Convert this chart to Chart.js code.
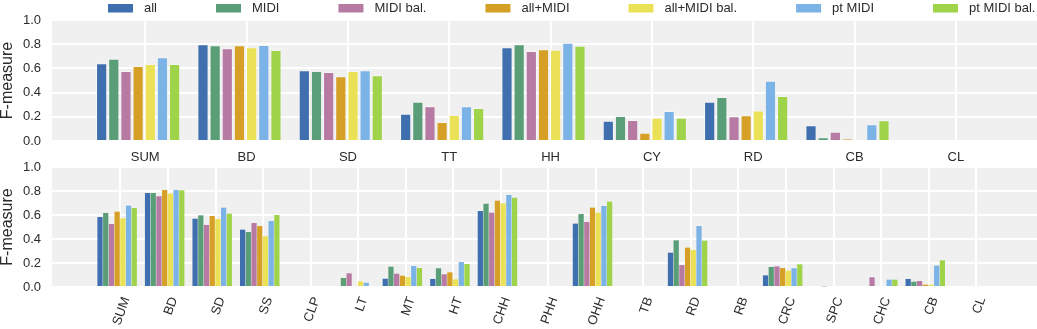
<!DOCTYPE html>
<html>
<head>
<meta charset="utf-8">
<script src="https://cdn.jsdelivr.net/npm/chart.js@4.4.0/dist/chart.umd.js"></script>
<style>
    html, body { margin: 0; padding: 0; background: #fff; }
    #wrap { position: relative; width: 1037px; height: 329px; }
    #wrap canvas { position: absolute; left: 0; top: 0; }
</style>
</head>
<body>
<div id="wrap">
    <canvas id="topChart" width="1037" height="329"></canvas>
    <canvas id="bottomChart" width="1037" height="329"></canvas>
</div>
<script>
// Series / categories
const seriesNames = ['all', 'MIDI', 'MIDI bal.', 'all+MIDI', 'all+MIDI bal.', 'pt MIDI', 'pt MIDI bal.'];
const yTicks = [0, 0.2, 0.4, 0.6, 0.8, 1.0];

const topCategories = ['SUM', 'BD', 'SD', 'TT', 'HH', 'CY', 'RD', 'CB', 'CL'];
const topAll         = [0.642, 0.799, 0.584, 0.226, 0.774, 0.168, 0.325, 0.130, 0];
const topMidi        = [0.680, 0.791, 0.579, 0.325, 0.799, 0.207, 0.364, 0.030, 0];
const topMidiBal     = [0.579, 0.766, 0.570, 0.287, 0.744, 0.174, 0.204, 0.077, 0];
const topAllMidi     = [0.620, 0.791, 0.535, 0.157, 0.758, 0.069, 0.212, 0.017, 0];
const topAllMidiBal  = [0.636, 0.774, 0.579, 0.215, 0.755, 0.193, 0.253, 0.008, 0];
const topPtMidi      = [0.692, 0.793, 0.584, 0.287, 0.813, 0.248, 0.498, 0.138, 0];
const topPtMidiBal   = [0.636, 0.752, 0.543, 0.273, 0.788, 0.193, 0.372, 0.171, 0];

const bottomCategories = ['SUM', 'BD', 'SD', 'SS', 'CLP', 'LT', 'MT', 'HT', 'CHH', 'PHH',
                          'OHH', 'TB', 'RD', 'RB', 'CRC', 'SPC', 'CHC', 'CB', 'CL'];
const botAll        = [0.583, 0.783, 0.569, 0.478, 0, 0,     0.069, 0.067, 0.633, 0, 0.528, 0, 0.286, 0, 0.097, 0,     0,     0.067, 0];
const botMidi       = [0.617, 0.783, 0.597, 0.458, 0, 0.075, 0.169, 0.156, 0.694, 0, 0.608, 0, 0.389, 0, 0.167, 0,     0,     0.044, 0];
const botMidiBal    = [0.525, 0.756, 0.517, 0.533, 0, 0.114, 0.111, 0.106, 0.619, 0, 0.542, 0, 0.183, 0, 0.172, 0.005, 0.081, 0.050, 0];
const botAllMidi    = [0.628, 0.808, 0.592, 0.508, 0, 0,     0.094, 0.122, 0.719, 0, 0.661, 0, 0.328, 0, 0.158, 0,     0,     0.019, 0];
const botAllMidiBal = [0.572, 0.778, 0.567, 0.422, 0, 0.047, 0.083, 0.064, 0.697, 0, 0.619, 0, 0.308, 0, 0.136, 0,     0,     0.019, 0];
const botPtMidi     = [0.678, 0.808, 0.661, 0.550, 0, 0.036, 0.175, 0.208, 0.767, 0, 0.675, 0, 0.508, 0, 0.156, 0,     0.061, 0.178, 0];
const botPtMidiBal  = [0.658, 0.806, 0.611, 0.600, 0, 0,     0.158, 0.192, 0.744, 0, 0.711, 0, 0.386, 0, 0.189, 0,     0.061, 0.222, 0];

const colors = ['#3f6fae', '#5a9e77', '#b77aa3', '#d69f26', '#eae157', '#7bb3e6', '#9fd34a'];
const FONT = '"Liberation Sans", Arial, sans-serif';
const TEXT = '#2b2b2b';
const GROUP_SHIFT = -0.07; // bar groups sit a bit left of their tick

function makeDatasets(seriesValues, edge) {
    return seriesValues.map(function(values, s) {
        return {
            label: seriesNames[s],
            data: values.map(function(v, i) { return { x: i + GROUP_SHIFT, y: v }; }),
            backgroundColor: colors[s],
            borderColor: 'rgba(255,255,255,0.3)',
            borderWidth: edge
        };
    });
}

// grey panel behind the plot
const panelPlugin = {
    id: 'panel',
    beforeDraw(chart) {
        const a = chart.chartArea;
        const ctx = chart.ctx;
        ctx.save();
        ctx.fillStyle = '#f0f0f0';
        ctx.fillRect(a.left, a.top, a.right - a.left, a.bottom - a.top);
        ctx.restore();
    }
};

// one-row legend along the top edge
const legendPlugin = {
    id: 'rowLegend',
    afterDraw(chart) {
        const ctx = chart.ctx;
        ctx.save();
        ctx.font = '13px ' + FONT;
        ctx.textBaseline = 'middle';
        let x = 108;
        chart.data.datasets.forEach(function(ds) {
            ctx.fillStyle = ds.backgroundColor;
            ctx.fillRect(x, 4, 25, 8.5);
            ctx.fillStyle = TEXT;
            ctx.fillText(ds.label, x + 36, 8.5);
            x += 36 + ctx.measureText(ds.label).width + 59;
        });
        ctx.restore();
    }
};

function buildChart(canvasId, categories, seriesValues, xMin, xMax, padding, axisHeight, rotated, edge, extraPlugins) {
    return new Chart(document.getElementById(canvasId), {
        type: 'bar',
        data: { datasets: makeDatasets(seriesValues, edge) },
        plugins: [panelPlugin].concat(extraPlugins),
        options: {
            responsive: false,
            animation: false,
            devicePixelRatio: 1,
            layout: { padding: padding },
            datasets: { bar: { categoryPercentage: 0.84, barPercentage: 0.92 } },
            plugins: { legend: { display: false }, tooltip: { enabled: false } },
            scales: {
                x: {
                    type: 'linear',
                    offset: false,
                    min: xMin,
                    max: xMax,
                    afterBuildTicks: function(scale) {
                        scale.ticks = categories.map(function(c, i) { return { value: i }; });
                    },
                    afterFit: function(scale) { scale.height = axisHeight; },
                    grid: { color: '#ffffff', lineWidth: 2, drawTicks: false, offset: false },
                    border: { display: false },
                    ticks: {
                        autoSkip: false,
                        padding: rotated ? 8 : 9,
                        minRotation: rotated ? 70 : 0,
                        maxRotation: rotated ? 70 : 0,
                        labelOffset: rotated ? 6 : 0,
                        color: TEXT,
                        font: { family: FONT, size: 13 },
                        callback: function(value) { return categories[value]; }
                    }
                },
                y: {
                    min: 0,
                    max: 1,
                    afterBuildTicks: function(scale) {
                        scale.ticks = yTicks.map(function(v) { return { value: v }; });
                    },
                    afterFit: function(scale) { scale.width = 52; },
                    grid: { color: '#ffffff', lineWidth: 2, drawTicks: false },
                    border: { display: false },
                    ticks: {
                        padding: 11,
                        color: TEXT,
                        font: { family: FONT, size: 13 },
                        callback: function(value) { return value.toFixed(1); }
                    },
                    title: {
                        display: true,
                        text: 'F-measure',
                        color: TEXT,
                        padding: 0,
                        font: { family: FONT, size: 16, lineHeight: 1 }
                    }
                }
            }
        }
    });
}

buildChart('topChart', topCategories,
    [topAll, topMidi, topMidiBal, topAllMidi, topAllMidiBal, topPtMidi, topPtMidiBal],
    -0.92, 8.8, { top: 20, bottom: 158, left: 0, right: 0 }, 30, false, 1, [legendPlugin]);

buildChart('bottomChart', bottomCategories,
    [botAll, botMidi, botMidiBal, botAllMidi, botAllMidiBal, botPtMidi, botPtMidiBal],
    -1.44, 19.28, { top: 167, bottom: 0, left: 0, right: 0 }, 42, true, 0, []);
</script>
</body>
</html>
